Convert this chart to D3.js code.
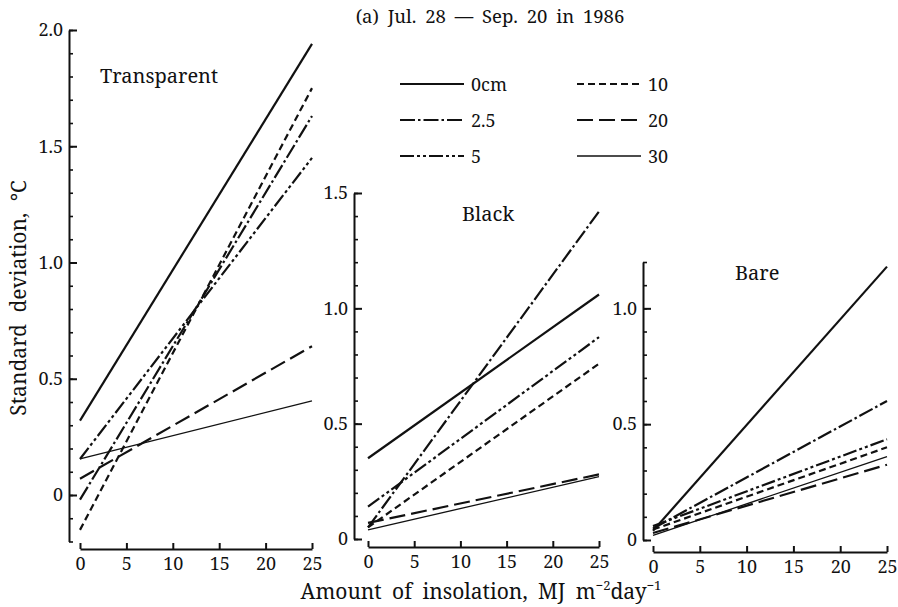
<!DOCTYPE html>
<html>
<head>
<meta charset="utf-8">
<script src="https://cdn.jsdelivr.net/npm/d3@7"></script>
<style>
  html, body { margin: 0; padding: 0; background: #fff; }
  svg { display: block; }
  text { font-family: "Noto Serif", "DejaVu Serif", serif; fill: #111; }
</style>
</head>
<body>
<svg id="chart" width="898" height="607"></svg>
<script>
// ---- Data ----
const depths = ["0cm", "2.5", "5", "10", "20", "30"];
const xDomain = [0, 25];
const xTicks = [0, 5, 10, 15, 20, 25];

// Standard deviation at insolation 0 and 25 MJ m-2 day-1, per depth
const transparentStart = [0.32, -0.02, 0.155, -0.15, 0.07, 0.155];
const transparentEnd   = [1.94, 1.63, 1.45, 1.75, 0.64, 0.405];
const blackStart = [0.35, 0.05, 0.14, 0.05, 0.07, 0.04];
const blackEnd   = [1.06, 1.42, 0.875, 0.76, 0.28, 0.27];
const bareStart = [0.04, 0.05, 0.06, 0.045, 0.03, 0.02];
const bareEnd   = [1.18, 0.60, 0.435, 0.40, 0.325, 0.36];

const transparentYTicks = [0, 0.5, 1.0, 1.5, 2.0];
const blackYTicks = [0, 0.5, 1.0, 1.5];
const bareYTicks = [0, 0.5, 1.0];

const FONT = '"Noto Serif", "DejaVu Serif", serif';

// ---- Styles ----
const styles = {
  "0cm": { w: 2.2, dash: null },
  "2.5": { w: 2.2, dash: "15,3,2.5,3" },
  "5":   { w: 2.2, dash: "14,3,3,3,3,3" },
  "10":  { w: 2.2, dash: "7,4" },
  "20":  { w: 2.2, dash: "16,6" },
  "30":  { w: 1.3, dash: null }
};

const svg = d3.select("#chart");

const panels = [
  { name: "Transparent", start: transparentStart, end: transparentEnd,
    yDomain: [-0.2, 2.0], yRange: [541.5, 30], yTicks: transparentYTicks,
    xRange: [80, 312], axisX: 69, axisY: 549, label: [100, 83] },
  { name: "Black", start: blackStart, end: blackEnd,
    yDomain: [0, 1.5], yRange: [539, 193], yTicks: blackYTicks,
    xRange: [368, 599], axisX: 354, axisY: 547, label: [462, 221] },
  { name: "Bare", start: bareStart, end: bareEnd,
    yDomain: [0, 1.2], yRange: [540, 262], yTicks: bareYTicks,
    xRange: [653, 887], axisX: 643, axisY: 552, label: [735, 280] }
];

const fmt = v => v === 0 ? "0" : d3.format(".1f")(v);

panels.forEach(p => {
  const x = d3.scaleLinear().domain(xDomain).range(p.xRange);
  const y = d3.scaleLinear().domain(p.yDomain).range(p.yRange);
  const g = svg.append("g");

  // minor y ticks
  const minor = d3.range(Math.round(p.yDomain[0] * 10), Math.round(p.yDomain[1] * 10) + 1).map(v => v / 10);
  const yMinor = g.append("g").attr("transform", `translate(${p.axisX},0)`)
    .call(d3.axisLeft(y).tickValues(minor).tickSize(-4).tickSizeOuter(0).tickFormat(""));
  yMinor.select(".domain").attr("stroke-width", 2).attr("stroke", "#111");
  yMinor.selectAll(".tick line").attr("stroke-width", 1.6).attr("stroke", "#111");

  // major y ticks
  const yMajor = g.append("g").attr("transform", `translate(${p.axisX},0)`)
    .call(d3.axisLeft(y).tickValues(p.yTicks).tickSize(-8).tickSizeOuter(0).tickPadding(6).tickFormat(fmt));
  yMajor.select(".domain").remove();
  yMajor.selectAll(".tick line").attr("stroke-width", 2).attr("stroke", "#111");
  yMajor.selectAll(".tick text").style("font-family", FONT)
    .style("font-size", "18px").attr("fill", "#111");

  // x axis
  const xa = g.append("g").attr("transform", `translate(0,${p.axisY})`)
    .call(d3.axisBottom(x).tickValues(xTicks).tickSize(-6).tickSizeOuter(0).tickPadding(8));
  xa.select(".domain").attr("stroke-width", 2).attr("stroke", "#111");
  xa.selectAll(".tick line").attr("stroke-width", 2).attr("stroke", "#111");
  xa.selectAll(".tick text").style("font-family", FONT)
    .style("font-size", "18px").attr("fill", "#111");

  // lines
  const line = d3.line().x(d => x(d[0])).y(d => y(d[1]));
  depths.forEach((dep, i) => {
    const pts = [[xDomain[0], p.start[i]], [xDomain[1], p.end[i]]];
    const st = styles[dep];
    g.append("path").datum(pts).attr("d", line)
      .attr("fill", "none").attr("stroke", "#111")
      .attr("stroke-width", st.w)
      .attr("stroke-dasharray", st.dash);
  });

  // panel label
  g.append("text").attr("x", p.label[0]).attr("y", p.label[1])
    .style("font-size", "20px").text(p.name);
});

// Title
svg.append("text").attr("x", 490).attr("y", 23).attr("text-anchor", "middle")
  .style("font-size", "18.5px").style("word-spacing", "4px")
  .text("(a) Jul. 28 — Sep. 20 in 1986");

// Legend
const legendPos = [
  [400, 84], [400, 120], [400, 156],
  [577, 84], [577, 120], [577, 156]
];
depths.forEach((dep, i) => {
  const [lx, ly] = legendPos[i];
  const st = styles[dep];
  svg.append("line").attr("x1", lx).attr("x2", lx + 64).attr("y1", ly).attr("y2", ly)
    .attr("stroke", "#111").attr("stroke-width", st.w)
    .attr("stroke-dasharray", st.dash);
  svg.append("text").attr("x", lx + 71).attr("y", ly + 7)
    .style("font-size", "18px").text(dep);
});

// Axis titles
const xt = svg.append("text").attr("x", 481).attr("y", 599).attr("text-anchor", "middle")
  .style("font-size", "21px").style("word-spacing", "5px");
xt.append("tspan").text("Amount of insolation, MJ m");
xt.append("tspan").attr("dy", -9).style("font-size", "13px").text("−2");
xt.append("tspan").attr("dy", 9).text("day");
xt.append("tspan").attr("dy", -9).style("font-size", "13px").text("−1");

svg.append("text").attr("transform", "translate(26,298) rotate(-90)")
  .attr("text-anchor", "middle").style("font-size", "21px").style("word-spacing", "6px")
  .text("Standard deviation, ℃");
</script>
</body>
</html>
